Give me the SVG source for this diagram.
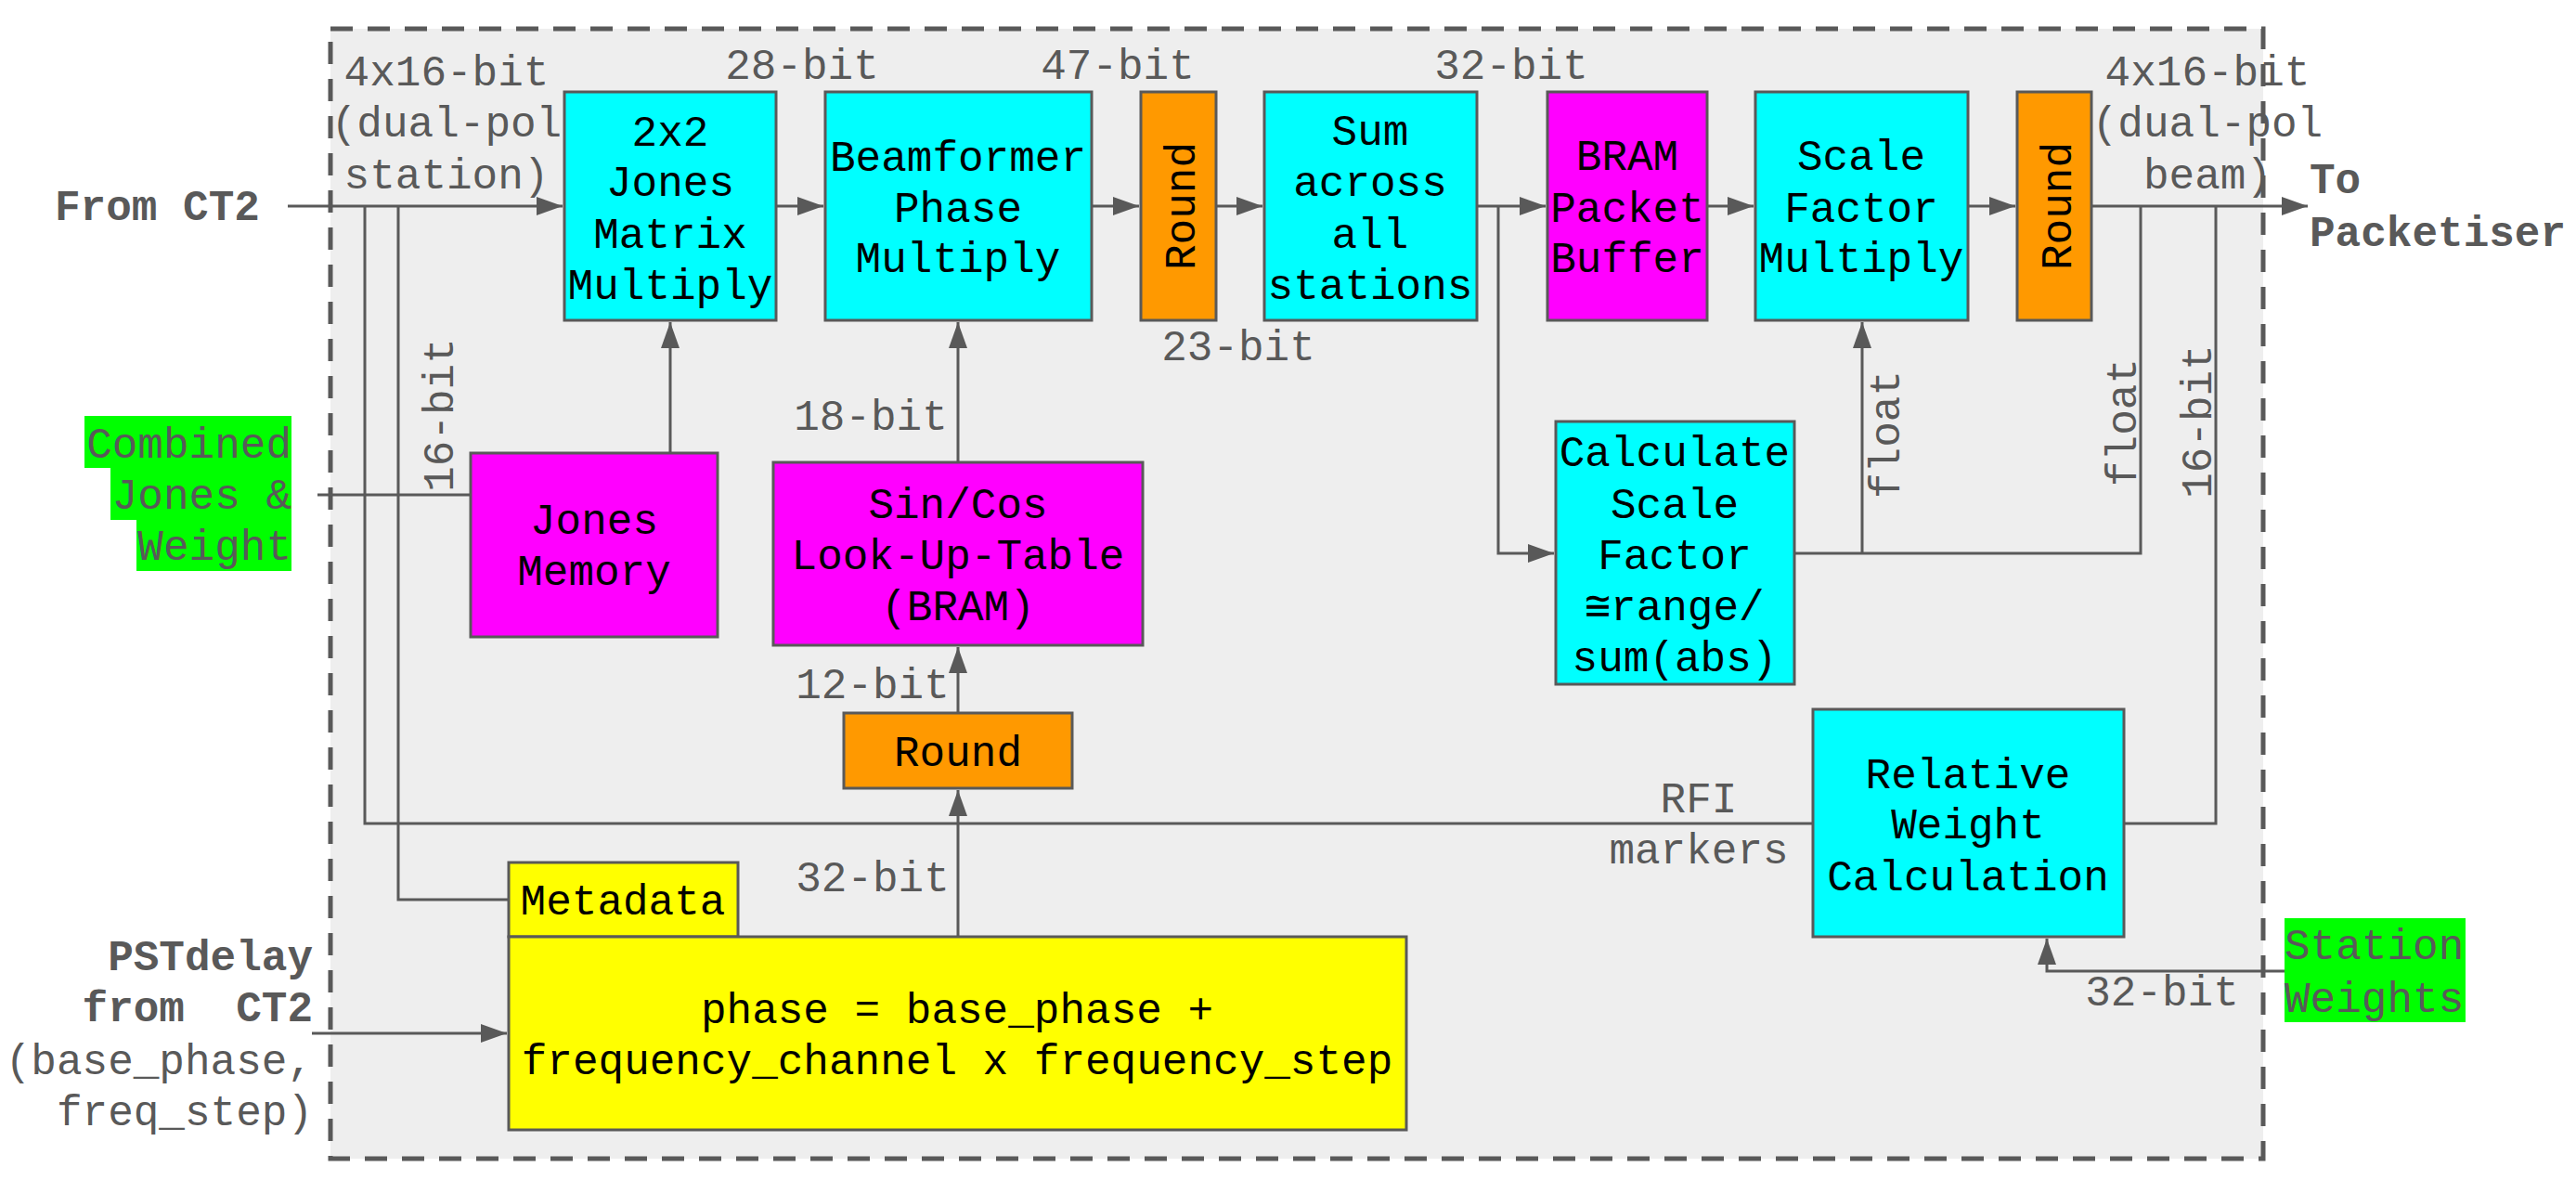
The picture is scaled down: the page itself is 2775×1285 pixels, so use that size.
<svg xmlns="http://www.w3.org/2000/svg" width="2775" height="1285" viewBox="0 0 2775 1285">
<style>
text{font-family:"Liberation Mono","DejaVu Sans Mono",monospace;font-size:46px}
.t{fill:#000;text-anchor:middle}
.l{fill:#595959}
.lm{fill:#595959;text-anchor:middle}
.b{fill:#595959;font-weight:bold}
.box{stroke:#595959;stroke-width:3}
.cy{fill:#00ffff}.mg{fill:#ff00ff}.or{fill:#ff9900}.ye{fill:#ffff00}.gr{fill:#00ff00}
.c{fill:none;stroke:#595959;stroke-width:3}
</style>
<defs>
<marker id="ah" markerUnits="userSpaceOnUse" markerWidth="28" markerHeight="20" refX="28" refY="10" orient="auto">
<path d="M0,0 L28,10 L0,20 z" fill="#595959"/>
</marker>
</defs>
<rect width="2775" height="1285" fill="#ffffff"/>
<g id="boundary">
<rect x="356" y="31" width="2082" height="1217" fill="#eeeeee" stroke="#595959" stroke-width="5" stroke-dasharray="24 16"/>
</g>
<g id="connectors">
<path class="c" d="M310,222 H606" marker-end="url(#ah)"/>
<path class="c" d="M393,222 V887 H1953"/>
<path class="c" d="M429,222 V969 H548"/>
<path class="c" d="M342,533 H507"/>
<path class="c" d="M722,488 V347" marker-end="url(#ah)"/>
<path class="c" d="M836,222 H887" marker-end="url(#ah)"/>
<path class="c" d="M1176,222 H1227" marker-end="url(#ah)"/>
<path class="c" d="M1310,222 H1360" marker-end="url(#ah)"/>
<path class="c" d="M1591,222 H1665" marker-end="url(#ah)"/>
<path class="c" d="M1614,222 V596 H1674" marker-end="url(#ah)"/>
<path class="c" d="M1839,222 H1889" marker-end="url(#ah)"/>
<path class="c" d="M2120,222 H2171" marker-end="url(#ah)"/>
<path class="c" d="M2253,222 H2486" marker-end="url(#ah)"/>
<path class="c" d="M1933,596 H2306 V222"/>
<path class="c" d="M2006,596 V347" marker-end="url(#ah)"/>
<path class="c" d="M2288,887 H2387 V222"/>
<path class="c" d="M1032,498 V347" marker-end="url(#ah)"/>
<path class="c" d="M1032,768 V697" marker-end="url(#ah)"/>
<path class="c" d="M1032,1009 V851" marker-end="url(#ah)"/>
<path class="c" d="M336,1113 H546" marker-end="url(#ah)"/>
<path class="c" d="M2461,1046 H2205 V1011" marker-end="url(#ah)"/>
</g>
<g id="labels">
<text class="lm" x="481" y="92">4x16-bit</text>
<text class="lm" x="481" y="147">(dual-pol</text>
<text class="lm" x="481" y="203">station)</text>
<text class="lm" x="864" y="85">28-bit</text>
<text class="lm" x="1204" y="85">47-bit</text>
<text class="lm" x="1628" y="85">32-bit</text>
<text class="lm" x="1334" y="388">23-bit</text>
<text class="lm" x="938" y="463">18-bit</text>
<text class="lm" x="940" y="752">12-bit</text>
<text class="lm" x="940" y="960">32-bit</text>
<text class="lm" x="1830" y="875">RFI</text>
<text class="lm" x="1830" y="930">markers</text>
<text class="lm" x="2329" y="1083">32-bit</text>
<text class="lm" x="2378" y="92">4x16-bit</text>
<text class="lm" x="2378" y="147">(dual-pol</text>
<text class="lm" x="2378" y="203">beam)</text>
<text class="lm" transform="translate(488,447) rotate(-90)">16-bit</text>
<text class="lm" transform="translate(2046,468) rotate(-90)">float</text>
<text class="lm" transform="translate(2301,455) rotate(-90)">float</text>
<text class="lm" transform="translate(2382,454) rotate(-90)">16-bit</text>
</g>
<g id="from-ct2">
<text class="b" x="59" y="237">From CT2</text>
</g>
<g id="to-packetiser">
<text class="b" x="2488" y="208">To</text>
<text class="b" x="2488" y="265">Packetiser</text>
</g>
<g id="pstdelay">
<text class="b" x="337" y="1045" text-anchor="end">PSTdelay</text>
<text class="b" x="337" y="1100" text-anchor="end" xml:space="preserve">from  CT2</text>
<text class="l" x="337" y="1157" text-anchor="end">(base_phase,</text>
<text class="l" x="337" y="1212" text-anchor="end">freq_step)</text>
</g>
<g id="combined-jones-weight">
<rect class="gr" x="91" y="448" width="223" height="56"/>
<rect class="gr" x="119" y="503" width="195" height="57"/>
<rect class="gr" x="147" y="559" width="167" height="56"/>
<text class="l" x="314" y="493" text-anchor="end">Combined</text>
<text class="l" x="314" y="548" text-anchor="end">Jones &amp;</text>
<text class="l" x="314" y="603" text-anchor="end">Weight</text>
</g>
<g id="station-weights">
<rect class="gr" x="2461" y="989" width="195" height="112"/>
<text class="l" x="2461" y="1033">Station</text>
<text class="l" x="2461" y="1090">Weights</text>
</g>
<g id="jones-matrix">
<rect class="box cy" x="608" y="99" width="228" height="246"/>
<text class="t" x="722" y="157">2x2</text>
<text class="t" x="722" y="211">Jones</text>
<text class="t" x="722" y="267">Matrix</text>
<text class="t" x="722" y="322">Multiply</text>
</g>
<g id="beamformer">
<rect class="box cy" x="889" y="99" width="287" height="246"/>
<text class="t" x="1032" y="184">Beamformer</text>
<text class="t" x="1032" y="239">Phase</text>
<text class="t" x="1032" y="293">Multiply</text>
</g>
<g id="round1">
<rect class="box or" x="1229" y="99" width="81" height="246"/>
<text class="t" transform="translate(1287,222) rotate(-90)">Round</text>
</g>
<g id="sum">
<rect class="box cy" x="1362" y="99" width="229" height="246"/>
<text class="t" x="1476" y="156">Sum</text>
<text class="t" x="1476" y="211">across</text>
<text class="t" x="1476" y="267">all</text>
<text class="t" x="1476" y="322">stations</text>
</g>
<g id="bram">
<rect class="box mg" x="1667" y="99" width="172" height="246"/>
<text class="t" x="1753" y="183">BRAM</text>
<text class="t" x="1753" y="239">Packet</text>
<text class="t" x="1753" y="293">Buffer</text>
</g>
<g id="scale-mult">
<rect class="box cy" x="1891" y="99" width="229" height="246"/>
<text class="t" x="2005" y="183">Scale</text>
<text class="t" x="2005" y="239">Factor</text>
<text class="t" x="2005" y="293">Multiply</text>
</g>
<g id="round2">
<rect class="box or" x="2173" y="99" width="80" height="246"/>
<text class="t" transform="translate(2231,222) rotate(-90)">Round</text>
</g>
<g id="jones-memory">
<rect class="box mg" x="507" y="488" width="266" height="198"/>
<text class="t" x="640" y="575">Jones</text>
<text class="t" x="640" y="630">Memory</text>
</g>
<g id="sincos">
<rect class="box mg" x="833" y="498" width="398" height="197"/>
<text class="t" x="1032" y="558">Sin/Cos</text>
<text class="t" x="1032" y="613">Look-Up-Table</text>
<text class="t" x="1032" y="668">(BRAM)</text>
</g>
<g id="round3">
<rect class="box or" x="909" y="768" width="246" height="81"/>
<text class="t" x="1032" y="825">Round</text>
</g>
<g id="calc-scale">
<rect class="box cy" x="1676" y="454" width="257" height="283"/>
<text class="t" x="1804" y="502">Calculate</text>
<text class="t" x="1804" y="558">Scale</text>
<text class="t" x="1804" y="613">Factor</text>
<text class="t" x="1804" y="668">≅range/</text>
<text class="t" x="1804" y="723">sum(abs)</text>
</g>
<g id="relative-weight">
<rect class="box cy" x="1953" y="764" width="335" height="245"/>
<text class="t" x="2120" y="849">Relative</text>
<text class="t" x="2120" y="903">Weight</text>
<text class="t" x="2120" y="959">Calculation</text>
</g>
<g id="metadata">
<rect class="box ye" x="548" y="929" width="247" height="80"/>
<text class="t" x="671" y="985">Metadata</text>
</g>
<g id="phase">
<rect class="box ye" x="548" y="1009" width="967" height="208"/>
<text class="t" x="1031" y="1102">phase = base_phase +</text>
<text class="t" x="1031" y="1157">frequency_channel x frequency_step</text>
</g>
</svg>
